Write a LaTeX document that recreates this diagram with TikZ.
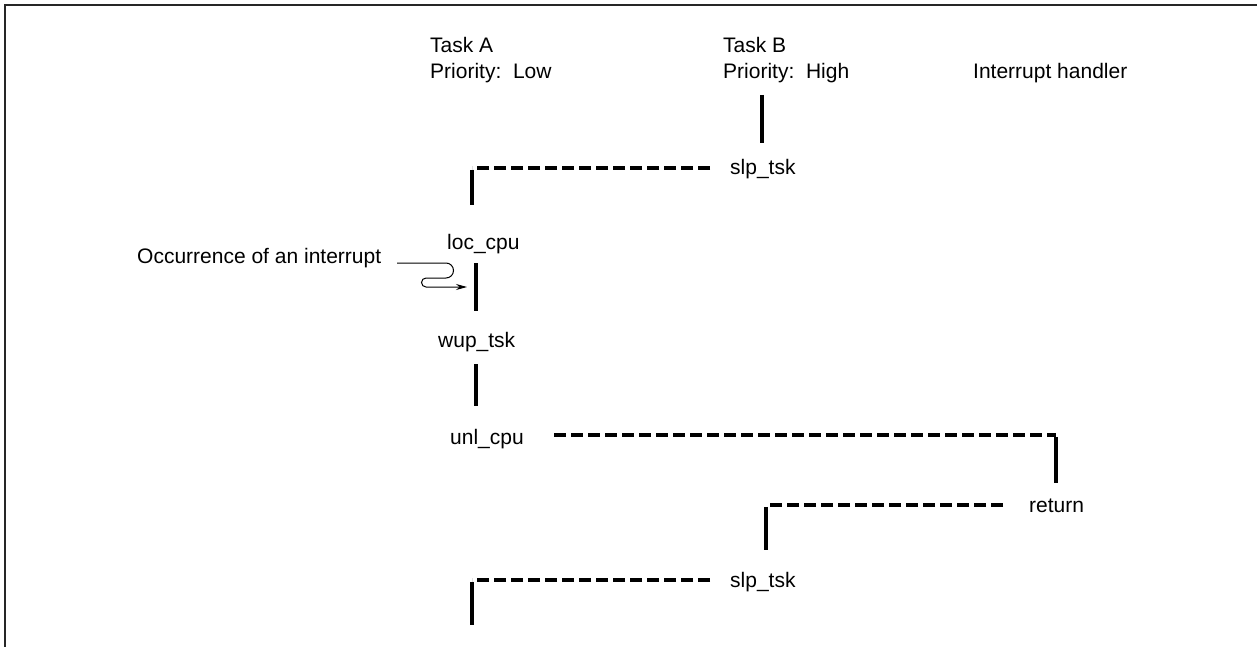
\documentclass[tikz,border=0pt]{standalone}
\usepackage{fontspec}
\setmainfont{Liberation Sans}
\usetikzlibrary{arrows.meta}
\begin{document}
\begin{tikzpicture}[x=1pt,y=-1pt,
  lbl/.style={anchor=base west,inner sep=0pt,font=\fontsize{21}{26}\selectfont},
  life/.style={line width=3.5pt},
  hand/.style={line width=3.5pt,dash pattern=on 12pt off 5pt},
  frameline/.style={line width=2.5pt,black!85},
  irqline/.style={line width=1pt}]
\useasboundingbox (0,0) rectangle (1257,647);
% frame
\draw[frameline] (5,647) -- (5,5) -- (1257,5);
% headings
\node[lbl] (ta)  at (430,53) {Task A};
\node[lbl] (tap) at (430,79) {Priority:\ \ Low};
\node[lbl] (tb)  at (723,53) {Task B};
\node[lbl] (tbp) at (723,79) {Priority:\ \ High};
\node[lbl] (ih)  at (973,79) {Interrupt handler};
% service calls
\node[lbl] (s1) at (730,175) {slp\_tsk};
\node[lbl] (lc) at (447,249) {loc\_cpu};
\node[lbl] (oc) at (137,263) {Occurrence of an interrupt};
\node[lbl] (wu) at (438,347) {wup\_tsk};
\node[lbl] (uc) at (450,444) {unl\_cpu};
\node[lbl] (rt) at (1029,512) {return};
\node[lbl] (s2) at (730,587) {slp\_tsk};
% task B runs, then sleeps
\coordinate (b0) at (762,95);
\coordinate (b1) at (762,143);
\draw[life] (b0) -- (b1);
\coordinate (d1e) at (710,168);
\coordinate (d1c) at (472,168);
\coordinate (a0) at (472,205);
\draw[hand] (d1e) -- (d1c);
\draw[life] ([yshift=-1.75pt]d1c) -- (a0);
% task A between loc_cpu and wup_tsk
\coordinate (a1) at (476,263);
\coordinate (a2) at (476,311);
\draw[life] (a1) -- (a2);
% interrupt occurrence
\coordinate (i0) at (397,263);
\coordinate (i1) at (467,287);
\draw[irqline,-{Stealth[length=11pt,width=6pt]}]
  (i0) -- (446,263) arc[start angle=-90,end angle=90,radius=7.5]
  -- (426,278) arc[start angle=-90,end angle=-270,radius=4.5] -- (i1);
% task A between wup_tsk and unl_cpu
\coordinate (a3) at (476,364);
\coordinate (a4) at (476,406);
\draw[life] (a3) -- (a4);
% dispatch to the handler
\coordinate (d2s) at (554,435);
\coordinate (d2c) at (1056,435);
\coordinate (h0) at (1056,483);
\draw[hand] (d2s) -- (d2c);
\draw[life] ([yshift=-1.75pt]d2c) -- (h0);
% return to task B
\coordinate (d3e) at (1003,505);
\coordinate (d3c) at (766,505);
\coordinate (b2) at (766,550);
\draw[hand] (d3e) -- (d3c);
\draw[life] ([yshift=-1.75pt]d3c) -- (b2);
% task B sleeps, task A resumes
\coordinate (d4e) at (710,580);
\coordinate (d4c) at (472,580);
\coordinate (a5) at (472,625);
\draw[hand] (d4e) -- (d4c);
\draw[life] ([yshift=-1.75pt]d4c) -- (a5);
\end{tikzpicture}
\end{document}
